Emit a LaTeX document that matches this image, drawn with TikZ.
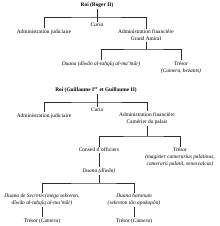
\documentclass[tikz,border=0pt]{standalone}
\usepackage{fontspec}
\setmainfont{Liberation Serif}
\usetikzlibrary{positioning}
\definecolor{linegray}{RGB}{45,45,45}

\begin{document}
\begin{tikzpicture}[x=1pt,y=-1pt,
    lbl/.style={font=\fontsize{5.4}{6.8}\selectfont,align=center,inner sep=1pt},
    ttl/.style={lbl,font=\fontsize{5.4}{6.8}\selectfont\bfseries},
    brk/.style={draw=linegray,line width=0.75pt}]
  \useasboundingbox (0,0) rectangle (220,226);

  % Roger II
  \node[ttl] (roiA) at (97,5) {Roi (Roger II)};
  \node[lbl] (curiaA) at (97,25) {\itshape Curia};
  \node[lbl] (adjA) at (44,32) {Administration judiciaire};
  \node[lbl] (afinA) at (146,35.5) {Administration financière\\Grand Amiral};
  \node[lbl] (duanaA) at (101,64) {\itshape Duana (dîwân al-ta\d{h}qîq al-ma'mûr)};
  \node[lbl] (tresorA) at (181,67.5) {Trésor\\\textit{(Camera, bezants)}};
  \coordinate (jA) at (97,17);
  \coordinate (jB) at (146,49);
  \draw[brk] (roiA) -- (curiaA);
  \draw[brk] (adjA.north) |- (jA) -| (afinA.north);
  \draw[brk] (afinA) -- (jB);
  \draw[brk] (duanaA.north) |- (jB) -| (tresorA.north);

  % Guillaume I et II
  \node[ttl] (roiB) at (96,90) {Roi (Guillaume I\textsuperscript{er} et Guillaume II)};
  \node[lbl] (curiaB) at (97,110) {Curia};
  \node[lbl] (adjB) at (44,116) {Administration judiciaire};
  \node[lbl] (afinB) at (147,118.5) {Administration financière\\Camérier du palais};
  \node[lbl] (conseil) at (99,150) {Conseil d'officiers};
  \node[lbl] (tresorB) at (180,157) {Trésor\\\textit{(magister camerarius palatinus,}\\\textit{camerarii palatii, senescalcus)}};
  \node[lbl] (duanaB) at (99,171) {\itshape Duana (dîwân)};
  \node[lbl] (secretis) at (42,200) {\itshape Duana de Secretis (mega sekreton,\\\itshape dîwân al-ta\d{h}qîq al-ma'mûr)};
  \node[lbl] (baronum) at (134,200) {\itshape Duana baronum\\\itshape (sekreton tôn apokopôn)};
  \node[lbl] (tresorC) at (42,221) {Trésor (\textit{Camera})};
  \node[lbl] (tresorD) at (134,221) {Trésor (\textit{Camera})};
  \coordinate (jC) at (97,102);
  \coordinate (jD) at (147,136);
  \coordinate (jE) at (99,183);
  \draw[brk] (roiB.south -| curiaB) -- (curiaB);
  \draw[brk] (adjB.north) |- (jC) -| (afinB.north);
  \draw[brk] (afinB) -- (jD);
  \draw[brk] (conseil.north) |- (jD) -| (tresorB.north);
  \draw[brk] (conseil) -- (duanaB);
  \draw[brk] (duanaB) -- (jE);
  \draw[brk] (secretis.north) |- (jE) -| (baronum.north);
  \draw[brk] (secretis) -- (tresorC);
  \draw[brk] (baronum) -- (tresorD);
\end{tikzpicture}
\end{document}
